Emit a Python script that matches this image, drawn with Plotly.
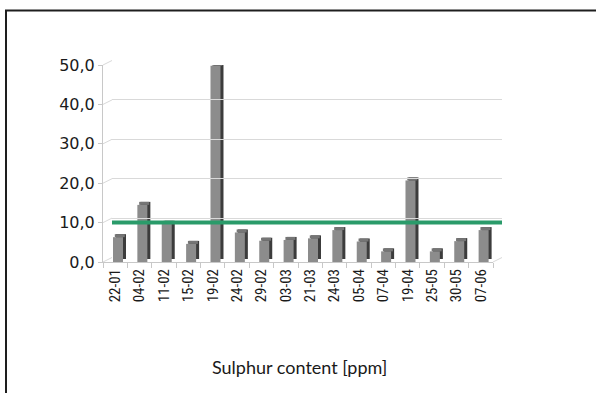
import plotly.graph_objects as go

# Sampling dates and measured sulphur content (ppm)
dates = ["22-01", "04-02", "11-02", "15-02", "19-02", "24-02", "29-02", "03-03",
         "21-03", "24-03", "05-04", "07-04", "19-04", "25-05", "30-05", "07-06"]
sulphur_ppm = [6.3, 14.5, 9.7, 4.6, 49.8, 7.5, 5.4, 5.6,
               6.0, 8.1, 5.2, 2.7, 20.7, 2.7, 5.3, 8.1]
limit_ppm = 10.0
y_ticks = [0, 10, 20, 30, 40, 50]
title_text = "Sulphur content [ppm]"

W, H = 596, 393

# Front plane (axis labels) and back wall, in pixels
FX0, FX1, FY0, FY1 = 103, 493, 262, 65      # front: x left/right, y of 0 / 50
BX0, BX1, BY0, BY1 = 112, 502, 257.5, 60.5  # back wall

def px(x):
    return x / W

def py(y):
    return 1 - y / H

# pseudo-3D bar geometry (category units / data units)
cat_px = (FX1 - FX0) / len(dates)
unit_px = (FY0 - FY1) / 50.0
face_w = 10 / cat_px
face_off = -2.2 / cat_px
side_dx = 3 / cat_px
depth = 3 / unit_px

n = len(dates)
fig = go.Figure()

# dark side face
fig.add_trace(go.Bar(
    x=dates, y=sulphur_ppm, base=[depth] * n,
    width=[face_w] * n, offset=[face_off + side_dx] * n,
    marker=dict(color="#3c3c3c", line=dict(width=0)), hoverinfo="skip"))
# top face
fig.add_trace(go.Bar(
    x=dates, y=[depth] * n, base=sulphur_ppm,
    width=[face_w] * n, offset=[face_off + side_dx * 0.6] * n,
    marker=dict(color="#757575", line=dict(width=0)), hoverinfo="skip"))
# front face
fig.add_trace(go.Bar(
    x=dates, y=sulphur_ppm,
    width=[face_w] * n, offset=[face_off] * n,
    marker=dict(color="#8c8c8c", line=dict(width=0)),
    hovertemplate="%{x}: %{y:.1f} ppm<extra></extra>"))

grid_col = "#d9d9d9"
axis_col = "#c8c8c8"

# back wall gridlines live on a second, invisible axis pair
fig.add_trace(go.Scatter(x=[0], y=[0], xaxis="x2", yaxis="y2",
                         mode="markers", marker=dict(opacity=0),
                         hoverinfo="skip", showlegend=False))

fig.update_layout(
    width=W, height=H, autosize=False,
    margin=dict(l=0, r=0, t=0, b=0, pad=0),
    paper_bgcolor="white", plot_bgcolor="rgba(0,0,0,0)",
    barmode="overlay", showlegend=False,
    separators=", ",
    xaxis=dict(
        domain=[px(FX0), px(FX1)], type="category", automargin=False,
        range=[-0.5, n - 0.5],
        showgrid=False, zeroline=False,
        showline=True, linecolor=axis_col, linewidth=1,
        ticks="outside", tickson="boundaries", ticklen=5, tickcolor=axis_col,
        tickangle=-90,
        tickfont=dict(family="Liberation Sans Narrow, Roboto Condensed, DejaVu Sans Condensed, sans-serif",
                      size=15, color="#1a1a1a"),
    ),
    yaxis=dict(
        domain=[py(FY0), py(FY1)], range=[0, 50], automargin=False,
        tickvals=y_ticks, tickformat=".1f",
        showgrid=False, zeroline=False,
        showline=True, linecolor=axis_col, linewidth=1,
        ticks="outside", ticklen=4, tickcolor=axis_col,
        tickfont=dict(family="DejaVu Sans, sans-serif", size=16, color="#1a1a1a"),
    ),
    xaxis2=dict(domain=[px(BX0), px(BX1)], range=[0, 1], visible=False,
                anchor="y2", automargin=False),
    yaxis2=dict(domain=[py(BY0), py(BY1)], range=[0, 50], anchor="x2",
                automargin=False,
                tickvals=y_ticks, showticklabels=False,
                showgrid=True, gridcolor=grid_col, gridwidth=1,
                zeroline=False, showline=False, ticks=""),
)

shapes = []
# side-wall connectors between front axis and back wall
for t in y_ticks:
    yf = FY0 + (FY1 - FY0) * t / 50
    yb = BY0 + (BY1 - BY0) * t / 50
    shapes.append(dict(type="line", xref="paper", yref="paper",
                       x0=px(FX0), y0=py(yf), x1=px(BX0), y1=py(yb),
                       line=dict(color=grid_col, width=1), layer="below"))
# floor right edge
shapes.append(dict(type="line", xref="paper", yref="paper",
                   x0=px(FX1), y0=py(FY0), x1=px(BX1), y1=py(BY0),
                   line=dict(color=grid_col, width=1), layer="below"))
# limit line spanning the back wall width
shapes.append(dict(type="line", xref="x2 domain", yref="y",
                   x0=0, x1=1, y0=limit_ppm, y1=limit_ppm,
                   line=dict(color="#2a9b6a", width=4), layer="above"))
# outer frame (left and top edges)
shapes.append(dict(type="line", xref="paper", yref="paper",
                   x0=px(6), y0=0, x1=px(6), y1=py(10.5),
                   line=dict(color="#1e1e1e", width=2)))
shapes.append(dict(type="line", xref="paper", yref="paper",
                   x0=px(5), y0=py(10.5), x1=1, y1=py(10.5),
                   line=dict(color="#1e1e1e", width=2)))
fig.update_layout(shapes=shapes)

fig.add_annotation(text=title_text, xref="paper", yref="paper",
                   x=px(299), y=py(367), showarrow=False,
                   xanchor="center", yanchor="middle",
                   font=dict(family="Lato, Open Sans, sans-serif", size=18, color="#1a1a1a"))

fig.write_html("out.html")
